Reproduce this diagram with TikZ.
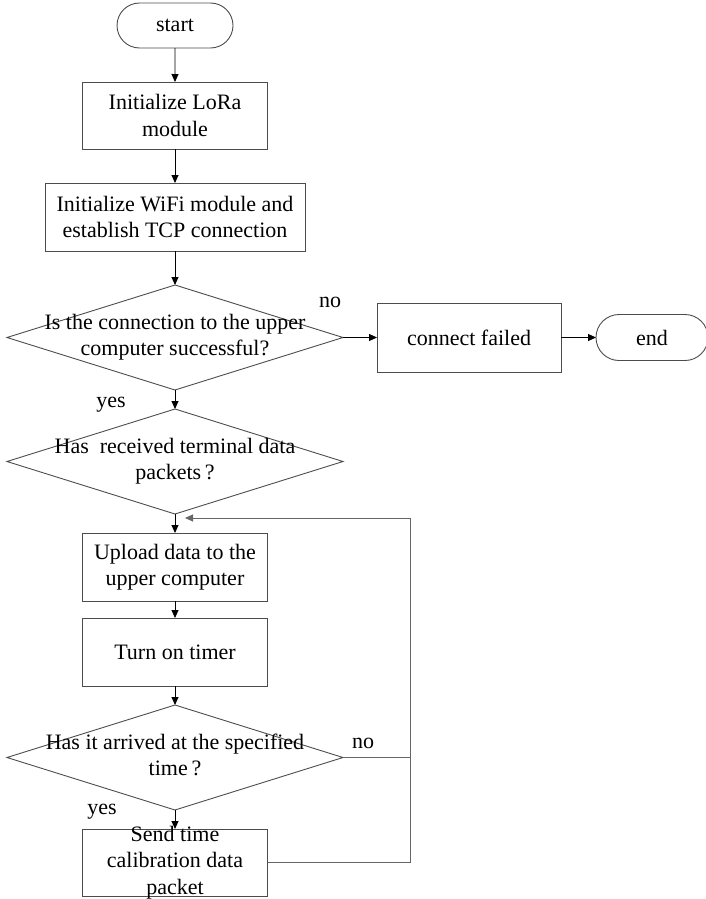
\documentclass[tikz,border=0pt]{standalone}
\usepackage{fontspec}
\setmainfont{Liberation Serif}
\usetikzlibrary{shapes.geometric, shapes.misc, arrows.meta, positioning}
% text that may run over the border of its shape
\newcommand{\spill}[1]{\smash{\raisebox{-5pt}{\makebox[0pt]{\begin{tabular}{@{}c@{}}#1\end{tabular}}}}}

\begin{document}
\begin{tikzpicture}[
    node distance=34pt,
    every node/.style={font=\fontsize{22}{26.5}\selectfont, align=center},
    termbox/.style={rounded rectangle, draw=black!70, line width=0.9pt, minimum width=116pt, minimum height=45pt, inner sep=0pt, outer sep=0pt},
    procbox/.style={rectangle, draw=black!70, line width=0.9pt, minimum width=185pt, minimum height=68pt, inner sep=0pt, outer sep=0pt},
    decbox/.style={diamond, draw=black!70, line width=0.9pt, minimum width=336pt, minimum height=105pt, inner sep=0pt, outer sep=0pt},
    lbl/.style={inner sep=0pt},
    arrow/.style={-{Triangle[length=8pt, width=7pt]}, draw=black, line width=0.9pt},
    loopline/.style={draw=black!60, line width=0.9pt}
  ]
    \useasboundingbox (0,0) rectangle (705pt,-899pt);

    % Main column
    \node[termbox] (start) at (175pt,-25.5pt) {start};
    \node[procbox, below=34pt of start, minimum height=67pt] (lora) {Initialize LoRa\\module};
    \node[procbox, below=34pt of lora, minimum width=260pt] (wifi) {Initialize WiFi module and\\establish TCP connection};
    \node[decbox, below=34pt of wifi] (conn) {\spill{Is the connection to the upper\\computer successful?}};

    % Failure branch
    \node[procbox, right=34pt of conn, minimum width=184pt, minimum height=69pt] (fail) {connect failed};
    \node[termbox, right=35pt of fail, minimum width=112pt, minimum height=46pt] (end) {end};

    % Data loop
    \node[decbox, below=19pt of conn] (recv) {\spill{Has\ \ received terminal data\\packets\,?}};
    \node[procbox, below=19pt of recv] (upload) {Upload data to the\\upper computer};
    \node[procbox, below=17pt of upload] (timer) {Turn on timer};
    \node[decbox, below=19pt of timer] (arrive) {\spill{Has it arrived at the specified\\time\,?}};
    \node[procbox, below=19pt of arrive, minimum height=67pt] (send) {\spill{Send time\\calibration data\\packet}};

    % Branch labels
    \node[lbl] (no1) at ([xshift=-13pt, yshift=35pt]conn.east) {no};
    \node[lbl] (yes1) at ([xshift=-64pt, yshift=-15pt]conn.south) {yes};
    \node[lbl] (no2) at ([xshift=20pt, yshift=14pt]arrive.east) {no};
    \node[lbl] (yes2) at ([xshift=-73pt, yshift=-2pt]arrive.south) {yes};

    % Connections
    \draw[arrow] (start) -- (lora);
    \draw[arrow] (lora) -- (wifi);
    \draw[arrow] (wifi) -- (conn);
    \draw[arrow] (conn) -- (fail);
    \draw[arrow] (fail) -- (end);
    \draw[arrow] (conn) -- (recv);
    \draw[arrow] (recv) -- (upload);
    \draw[arrow] (upload) -- (timer);
    \draw[arrow] (timer) -- (arrive);
    \draw[arrow] (arrive) -- (send);

    % Back to upload
    \coordinate[below right=4pt and 10pt of recv.south] (back);
    \coordinate[right=143pt of send.east] (corner);
    \draw[loopline, -{Triangle[length=8pt, width=7pt]}] (send.east) -- (corner) |- (back);
    \draw[loopline] (arrive.east) -- (arrive.east -| corner);
  \end{tikzpicture}
\end{document}
